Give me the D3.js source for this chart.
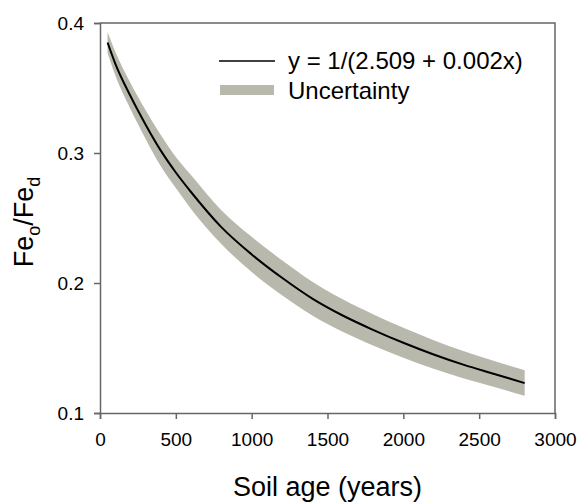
<!DOCTYPE html>
<html>
<head>
<meta charset="utf-8">
<script src="https://cdn.jsdelivr.net/npm/d3@7"></script>
<style>
  body { margin: 0; background: #fff; }
  text { font-family: "Liberation Sans", Arial, sans-serif; fill: #000; }
</style>
</head>
<body>
<script>
// values
var ages = [50, 100, 200, 300, 400, 500, 600, 800, 1000, 1200, 1400, 1600, 1800, 2000, 2200, 2400, 2600, 2800];
var fitted = [0.385, 0.369, 0.344, 0.322, 0.302, 0.285, 0.270, 0.243, 0.222, 0.204, 0.188, 0.175, 0.164, 0.154, 0.145, 0.137, 0.130, 0.123];
var upper = [0.393, 0.378, 0.354, 0.333, 0.314, 0.297, 0.283, 0.256, 0.2355, 0.2175, 0.201, 0.1875, 0.176, 0.1655, 0.156, 0.1475, 0.140, 0.1328];
var lower = [0.377, 0.360, 0.334, 0.311, 0.290, 0.273, 0.257, 0.230, 0.2085, 0.1905, 0.175, 0.1625, 0.152, 0.1425, 0.134, 0.1265, 0.120, 0.1132];
var xTicks = [0, 500, 1000, 1500, 2000, 2500, 3000];
var yTicks = [0.1, 0.2, 0.3, 0.4];
var legendLabels = ["y = 1/(2.509 + 0.002x)", "Uncertainty"];

var margin = {top: 23, right: 26, bottom: 89, left: 100};
var width = 581 - margin.left - margin.right;
var height = 502 - margin.top - margin.bottom;

var svg = d3.select("body")
    .append("svg")
    .attr("width", 581)
    .attr("height", 502)
    .append("g")
    .attr("transform", "translate(" + margin.left + "," + margin.top + ")");

var x = d3.scaleLinear().domain([0, 3000]).range([0, width]);
var y = d3.scaleLinear().domain([0.1, 0.4]).range([height, 0]);

var data = ages.map(function (a, i) {
    return {age: a, fit: fitted[i], hi: upper[i], lo: lower[i]};
});

// uncertainty band
svg.append("path")
    .datum(data)
    .attr("fill", "#b8b8ac")
    .attr("d", d3.area()
        .x(function (d) { return x(d.age); })
        .y0(function (d) { return y(d.lo); })
        .y1(function (d) { return y(d.hi); })
        .curve(d3.curveMonotoneX));

// fitted line
svg.append("path")
    .datum(data)
    .attr("fill", "none")
    .attr("stroke", "#000")
    .attr("stroke-width", 2)
    .attr("d", d3.line()
        .x(function (d) { return x(d.age); })
        .y(function (d) { return y(d.fit); })
        .curve(d3.curveMonotoneX));

// frame (top and right)
svg.append("path")
    .attr("fill", "none")
    .attr("stroke", "#666")
    .attr("stroke-width", 1.5)
    .attr("d", "M0,0H" + width + "V" + height);

// Add X axis
var xAxis = svg.append("g")
    .attr("transform", "translate(0," + height + ")")
    .call(d3.axisBottom(x).tickValues(xTicks).tickSize(6).tickPadding(14).tickFormat(d3.format("d")));

// Add Y axis
var yAxis = svg.append("g")
    .call(d3.axisLeft(y).tickValues(yTicks).tickSize(6).tickPadding(10).tickFormat(d3.format(".1f")));

[xAxis, yAxis].forEach(function (ax) {
    ax.select(".domain").attr("stroke", "#666").attr("stroke-width", 1.5);
    ax.selectAll(".tick line").attr("stroke", "#666").attr("stroke-width", 1.5);
    ax.selectAll(".tick text")
        .style("font-family", "'Liberation Sans', Arial, sans-serif")
        .style("font-size", "19px")
        .attr("fill", "#000");
});

// axis titles
svg.append("text")
    .attr("x", width / 2)
    .attr("y", height + 83)
    .attr("text-anchor", "middle")
    .style("font-size", "27px")
    .text("Soil age (years)");

var yTitle = svg.append("text")
    .attr("transform", "translate(" + (33 - margin.left) + "," + (height / 2 + 4) + ") rotate(-90)")
    .attr("text-anchor", "middle")
    .style("font-size", "27px");
yTitle.append("tspan").text("Fe");
yTitle.append("tspan").attr("dy", 7).style("font-size", "18px").text("o");
yTitle.append("tspan").attr("dy", -7).text("/Fe");
yTitle.append("tspan").attr("dy", 7).style("font-size", "18px").text("d");

// legend
var legend = svg.append("g").attr("transform", "translate(" + (219 - margin.left) + "," + (61 - margin.top) + ")");
legend.append("line")
    .attr("x1", 0).attr("x2", 56)
    .attr("y1", 0).attr("y2", 0)
    .attr("stroke", "#000").attr("stroke-width", 1.5);
legend.append("text")
    .attr("x", 69).attr("y", 8)
    .style("font-size", "24px")
    .text(legendLabels[0]);
legend.append("rect")
    .attr("x", 1).attr("y", 24)
    .attr("width", 54).attr("height", 10)
    .attr("fill", "#b8b8ac");
legend.append("text")
    .attr("x", 69).attr("y", 38)
    .style("font-size", "24px")
    .text(legendLabels[1]);
</script>
</body>
</html>
